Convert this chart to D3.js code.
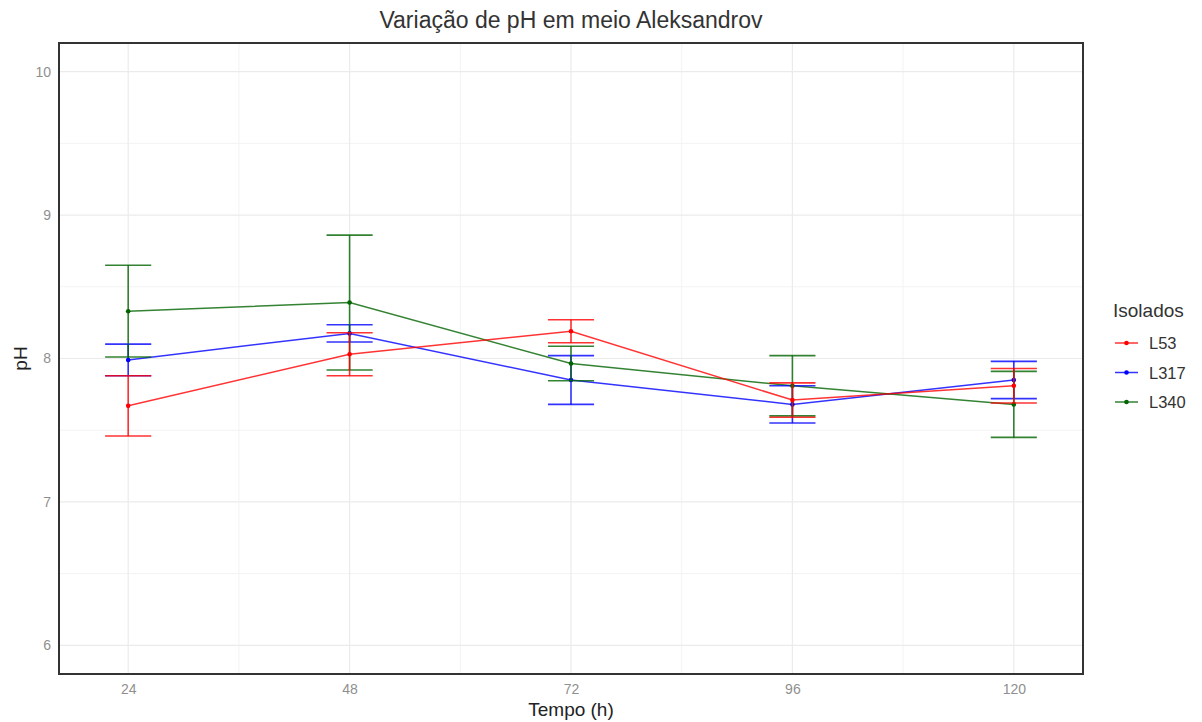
<!DOCTYPE html>
<html><head><meta charset="utf-8">
<script src="https://cdn.jsdelivr.net/npm/d3@7"></script>
<style>body{margin:0;background:#fff;} text{font-family:"Liberation Sans",Arial,sans-serif;}</style>
</head><body>
<svg id="chart" width="1202" height="722"></svg>
<script>
const times = [24, 48, 72, 96, 120];
const seriesNames = ["L53", "L317", "L340"];
const seriesColors = ["#ff0000", "#0000ff", "#006400"];
const meanL53 = [7.67, 8.03, 8.19, 7.71, 7.81];
const sdL53 = [0.21, 0.15, 0.08, 0.12, 0.12];
const meanL317 = [7.99, 8.175, 7.85, 7.68, 7.85];
const sdL317 = [0.11, 0.06, 0.17, 0.13, 0.13];
const meanL340 = [8.33, 8.39, 7.965, 7.81, 7.68];
const sdL340 = [0.32, 0.47, 0.12, 0.21, 0.23];
const yTicks = [6, 7, 8, 9, 10];
const yMinor = [6.5, 7.5, 8.5, 9.5];
const xMinor = [36, 60, 84, 108];

const means = [meanL53, meanL317, meanL340];
const sds = [sdL53, sdL317, sdL340];
const series = seriesNames.map((n, i) => ({
  name: n, color: seriesColors[i],
  values: times.map((t, j) => ({t, m: means[i][j], s: sds[i][j]}))
}));

const svg = d3.select("#chart");
const L = 59, R = 1083, T = 43, B = 674;
const x = d3.scaleLinear().domain([16.5, 127.5]).range([L, R]);
const y = d3.scaleLinear().domain([5.8, 10.2]).range([B, T]);

// grid
const g = svg.append("g");
g.selectAll(".ymin").data(yMinor).join("line")
  .attr("x1", L).attr("x2", R).attr("y1", d => y(d)).attr("y2", d => y(d))
  .attr("stroke", "#f3f3f3").attr("stroke-width", 1);
g.selectAll(".xmin").data(xMinor).join("line")
  .attr("y1", T).attr("y2", B).attr("x1", d => x(d)).attr("x2", d => x(d))
  .attr("stroke", "#f3f3f3").attr("stroke-width", 1);
g.selectAll(".ymaj").data(yTicks).join("line")
  .attr("x1", L).attr("x2", R).attr("y1", d => y(d)).attr("y2", d => y(d))
  .attr("stroke", "#ebebeb").attr("stroke-width", 1.2);
g.selectAll(".xmaj").data(times).join("line")
  .attr("y1", T).attr("y2", B).attr("x1", d => x(d)).attr("x2", d => x(d))
  .attr("stroke", "#ebebeb").attr("stroke-width", 1.2);

// axes (labels only)
const xAxis = d3.axisBottom(x).tickValues(times).tickFormat(d3.format("d")).tickSize(0).tickPadding(10);
const xa = svg.append("g").attr("transform", `translate(0,${B})`).call(xAxis);
xa.select(".domain").remove();
xa.selectAll("text").attr("fill", "#8f8f8f").style("font-size", "14px")
  .style("font-family", "Liberation Sans, Arial, sans-serif");
const yAxis = d3.axisLeft(y).tickValues(yTicks).tickFormat(d3.format("d")).tickSize(0).tickPadding(8);
const ya = svg.append("g").attr("transform", `translate(${L},0)`).call(yAxis);
ya.select(".domain").remove();
ya.selectAll("text").attr("fill", "#8f8f8f").style("font-size", "14px")
  .style("font-family", "Liberation Sans, Arial, sans-serif");

// data layers
const line = d3.line().x(d => x(d.t)).y(d => y(d.m));
const capW = 2.5;
const order = [1, 2, 0];
order.forEach(i => {
  const s = series[i];
  svg.append("path").datum(s.values).attr("d", line)
    .attr("fill", "none").attr("stroke", s.color).attr("stroke-width", 1.5).attr("stroke-opacity", 0.8);
});
order.forEach(i => {
  const s = series[i];
  const eg = svg.append("g").attr("stroke", s.color).attr("stroke-width", 1.6).attr("stroke-opacity", 0.8);
  eg.selectAll(".v").data(s.values).join("line")
    .attr("x1", d => x(d.t)).attr("x2", d => x(d.t))
    .attr("y1", d => y(d.m - d.s)).attr("y2", d => y(d.m + d.s));
  eg.selectAll(".top").data(s.values).join("line")
    .attr("x1", d => x(d.t - capW)).attr("x2", d => x(d.t + capW))
    .attr("y1", d => y(d.m + d.s)).attr("y2", d => y(d.m + d.s));
  eg.selectAll(".bot").data(s.values).join("line")
    .attr("x1", d => x(d.t - capW)).attr("x2", d => x(d.t + capW))
    .attr("y1", d => y(d.m - d.s)).attr("y2", d => y(d.m - d.s));
  svg.append("g").selectAll("circle").data(s.values).join("circle")
    .attr("cx", d => x(d.t)).attr("cy", d => y(d.m)).attr("r", 2.3)
    .attr("fill", s.color);
});

// panel border
svg.append("rect").attr("x", L).attr("y", T).attr("width", R - L).attr("height", B - T)
  .attr("fill", "none").attr("stroke", "#333").attr("stroke-width", 2);

// titles
svg.append("text").attr("x", (L + R) / 2).attr("y", 28).attr("text-anchor", "middle")
  .attr("fill", "#333").style("font-size", "23px").text("Variação de pH em meio Aleksandrov");
svg.append("text").attr("x", (L + R) / 2).attr("y", 716).attr("text-anchor", "middle")
  .attr("fill", "#222").style("font-size", "19px").text("Tempo (h)");
svg.append("text").attr("transform", `translate(27,${(T + B) / 2}) rotate(-90)`).attr("text-anchor", "middle")
  .attr("fill", "#222").style("font-size", "19px").text("pH");

// legend
const lg = svg.append("g");
lg.append("text").attr("x", 1113).attr("y", 317).attr("fill", "#333").style("font-size", "19px").text("Isolados");
series.forEach((s, i) => {
  const yy = 343 + i * 29.5;
  lg.append("line").attr("x1", 1115).attr("x2", 1138).attr("y1", yy).attr("y2", yy)
    .attr("stroke", s.color).attr("stroke-width", 1.5).attr("stroke-opacity", 0.8);
  lg.append("circle").attr("cx", 1126.5).attr("cy", yy).attr("r", 2.3).attr("fill", s.color);
  lg.append("text").attr("x", 1149).attr("y", yy + 6).attr("fill", "#333").style("font-size", "16.5px").text(s.name);
});
</script>
</body></html>
